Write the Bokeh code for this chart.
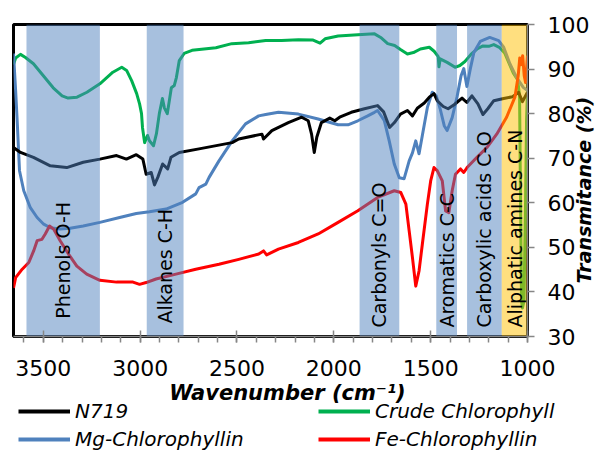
from math import pi
from bokeh.plotting import figure
from bokeh.layouts import column
from bokeh.models import (Range1d, FixedTicker, Legend, LegendItem, Label, ColumnDataSource)
from bokeh.core.properties import value
from bokeh.embed import file_html
from bokeh.resources import INLINE

FONT = "DejaVu Sans"

# ---------------- data (wavenumber cm-1, transmittance %) ----------------
n719_points = [
    (3654, 72.4), (3618, 71.3), (3551, 70.2), (3464, 68.3), (3379, 67.9), (3294, 69.1),
    (3208, 69.8), (3122, 70.6), (3071, 69.8), (3020, 70.8), (2986, 69.8), (2969, 66.4),
    (2943, 66.8), (2926, 64.0), (2909, 65.7), (2884, 68.7), (2858, 67.6), (2841, 70.2),
    (2798, 71.3), (2696, 72.1), (2525, 73.5), (2491, 74.3), (2371, 75.4), (2363, 74.3),
    (2320, 76.2), (2235, 78.0), (2166, 79.2), (2132, 78.4), (2115, 75.4), (2101, 71.3),
    (2088, 74.7), (2064, 78.0), (2021, 79.0), (1995, 78.4), (1970, 79.2), (1910, 80.3),
    (1842, 81.1), (1774, 81.8), (1743, 80.4), (1712, 76.9), (1687, 78.0), (1656, 79.9),
    (1620, 80.7), (1594, 79.5), (1569, 81.2), (1533, 82.4), (1507, 83.7), (1483, 84.5),
    (1466, 82.9), (1435, 81.6), (1410, 81.1), (1379, 82.0), (1338, 83.5), (1313, 82.5),
    (1287, 84.0), (1256, 82.2), (1230, 79.8), (1205, 81.1), (1174, 82.9), (1123, 83.4),
    (1077, 83.8), (1046, 84.8), (1026, 82.7), (1000, 84.8),
]

crude_points = [
    (3654, 91.0), (3643, 92.5), (3618, 93.3), (3592, 92.6), (3551, 91.2), (3500, 88.5),
    (3449, 85.8), (3403, 84.0), (3372, 83.5), (3326, 83.7), (3275, 84.8), (3208, 86.7),
    (3141, 89.3), (3095, 90.4), (3070, 89.7), (3044, 87.4), (3018, 84.5), (3003, 82.2),
    (2993, 80.0), (2988, 76.9), (2977, 73.5), (2962, 75.1), (2952, 73.9), (2931, 72.8),
    (2916, 75.5), (2901, 80.0), (2885, 83.4), (2875, 81.3), (2860, 80.0), (2849, 83.0),
    (2839, 85.8), (2824, 86.3), (2813, 88.1), (2798, 91.9), (2773, 93.5), (2732, 94.2),
    (2609, 94.8), (2527, 95.7), (2440, 95.9), (2352, 96.4), (2270, 96.4), (2183, 96.6),
    (2107, 96.5), (2071, 95.8), (2045, 96.8), (1978, 97.4), (1876, 97.7), (1790, 97.9),
    (1758, 97.1), (1722, 95.7), (1686, 95.3), (1656, 94.4), (1620, 93.4), (1589, 93.7),
    (1553, 94.5), (1507, 94.9), (1482, 94.0), (1461, 92.8), (1457, 90.5), (1451, 92.3),
    (1415, 91.5), (1374, 90.4), (1349, 90.8), (1323, 91.7), (1292, 93.3), (1261, 94.5),
    (1230, 95.2), (1200, 95.1), (1174, 95.5), (1143, 94.8), (1118, 93.6), (1092, 91.0),
    (1072, 89.0), (1051, 87.6), (1041, 84.0), (1036, 60.4), (1031, 38.0), (1026, 36.4),
    (1018, 38.0), (1010, 60.4), (1005, 78.4), (1000, 85.2),
]

mg_points = [
    (3654, 93.5), (3643, 85.2), (3635, 78.4), (3623, 67.2), (3601, 62.7), (3567, 58.9),
    (3532, 56.7), (3498, 55.2), (3464, 54.4), (3413, 54.1), (3362, 54.3), (3294, 54.8),
    (3208, 55.6), (3106, 56.7), (3020, 57.6), (2952, 58.0), (2866, 58.6), (2781, 60.1),
    (2713, 62.0), (2696, 63.4), (2661, 64.2), (2644, 65.7), (2593, 69.4), (2525, 73.9),
    (2456, 77.7), (2388, 79.5), (2352, 79.8), (2286, 80.3), (2183, 79.9), (2081, 78.8),
    (1978, 77.5), (1927, 77.5), (1876, 78.4), (1825, 79.5), (1790, 80.3), (1774, 80.7),
    (1739, 78.4), (1714, 73.9), (1688, 68.7), (1662, 65.6), (1637, 65.4), (1611, 69.4),
    (1594, 71.2), (1577, 73.9), (1560, 71.0), (1543, 75.1), (1517, 81.4), (1492, 84.8),
    (1471, 84.0), (1451, 81.1), (1430, 77.3), (1415, 76.2), (1389, 79.1), (1364, 83.7),
    (1343, 88.5), (1329, 90.1), (1313, 86.1), (1295, 90.1), (1277, 93.7), (1244, 96.2),
    (1195, 97.1), (1149, 96.4), (1123, 94.9), (1091, 91.2), (1056, 88.1), (1022, 85.9),
    (1000, 85.2),
]

fe_points = [
    (3654, 40.9), (3643, 43.2), (3609, 45.1), (3575, 46.6), (3550, 49.2), (3532, 51.5),
    (3507, 51.8), (3490, 53.0), (3468, 54.8), (3447, 54.1), (3413, 51.5), (3370, 48.5),
    (3327, 45.8), (3276, 44.0), (3208, 42.6), (3122, 42.2), (3037, 42.2), (3003, 41.7),
    (2969, 42.1), (2918, 42.9), (2815, 44.0), (2713, 45.1), (2593, 46.2), (2491, 47.3),
    (2388, 48.5), (2363, 49.2), (2347, 48.3), (2286, 49.6), (2183, 51.1), (2081, 53.0),
    (1978, 55.6), (1876, 58.2), (1774, 61.2), (1688, 62.7), (1654, 62.3), (1628, 59.7),
    (1611, 53.7), (1594, 47.7), (1577, 41.3), (1560, 44.7), (1543, 50.7), (1517, 59.7),
    (1500, 64.9), (1483, 67.9), (1466, 67.2), (1440, 64.9), (1423, 58.2), (1406, 57.8),
    (1389, 62.7), (1372, 66.4), (1346, 67.6), (1329, 66.8), (1312, 67.9), (1261, 70.2),
    (1210, 72.4), (1159, 75.4), (1108, 79.2), (1065, 83.7), (1048, 88.5), (1040, 92.5),
    (1032, 91.0), (1025, 93.0), (1017, 88.5), (1010, 87.0), (1005, 90.0), (1000, 93.0),
]

series_names = ["N719", "Crude Chlorophyll", "Mg-Chlorophyllin", "Fe-Chlorophyllin"]

band_names = ["Phenols O-H", "Alkanes C-H", "Carbonyls C=O", "Aromatics C-C",
              "Carboxylic acids C-O", "Aliphatic amines C-N"]
band_from = [3587, 2966, 1867, 1471, 1312, 1133]
band_to = [3208, 2776, 1662, 1364, 1133, 1000]

x_ticks = [3500, 3000, 2500, 2000, 1500, 1000]
x_minor_ticks = list(range(1000, 3700, 100))
y_ticks = [30, 40, 50, 60, 70, 80, 90, 100]

x_title = "Wavenumber (cm\u207b\u00b9)"
y_title = "Transmitance (%)"

# ---------------- styling / layout ----------------
line_colors = {"N719": "#000000", "Crude Chlorophyll": "#00B050",
               "Mg-Chlorophyllin": "#4F81BD", "Fe-Chlorophyllin": "#FF0000"}
band_colors = ["#4F81BD"] * 5 + ["#FFC000"]
band_label_start = [34.0, 32.9, 32.0, 32.0, 32.0, 32.0]
data = {"N719": n719_points, "Crude Chlorophyll": crude_points,
        "Mg-Chlorophyllin": mg_points, "Fe-Chlorophyllin": fe_points}

MAIN_H = 379
FOOT_H = 451 - MAIN_H

p = figure(width=609, height=MAIN_H, x_range=Range1d(3654, 1000), y_range=Range1d(30, 100),
           y_axis_location="right", output_backend="svg", toolbar_location=None,
           min_border_left=13, min_border_right=78, min_border_top=24,
           min_border_bottom=43)
p.title.visible = False
p.grid.visible = False
p.background_fill_color = "white"
p.border_fill_color = "white"
p.outline_line_color = "black"
p.outline_line_width = 3

for name in ["Crude Chlorophyll", "Mg-Chlorophyllin", "N719", "Fe-Chlorophyllin"]:
    xs = [a for a, b in data[name]]
    ys = [b for a, b in data[name]]
    p.line(xs, ys, line_color=line_colors[name], line_width=3, line_join="round")

# translucent absorption bands drawn over the spectra
p.quad(left=band_from, right=band_to, bottom=30, top=100, fill_color=band_colors,
       fill_alpha=0.5, line_color=None)

label_x = [(a + b) / 2 for a, b in zip(band_from, band_to)]
src = ColumnDataSource(dict(x=label_x, y=band_label_start, text=band_names))
p.text(x="x", y="y", text="text", source=src, angle=pi / 2,
       text_font=value(FONT), text_font_size=value("19px"), text_color="black",
       text_align="left", text_baseline="middle")

# x axis
xa = p.xaxis[0]
xa.ticker = FixedTicker(ticks=x_ticks, minor_ticks=x_minor_ticks)
xa.major_label_text_font = FONT
xa.major_label_text_font_size = "22px"
xa.major_label_text_color = "black"
xa.axis_line_color = "#868686"
xa.axis_line_width = 1.5
xa.major_tick_line_color = "#868686"
xa.minor_tick_line_color = "#868686"
xa.major_tick_line_width = 1.5
xa.minor_tick_line_width = 1.5
xa.major_tick_in = 6
xa.major_tick_out = 6
xa.minor_tick_in = 0
xa.minor_tick_out = 6
xa.major_label_standoff = 17

# y axis (right); the title reads bottom-to-top and starts ~53 px above the axis bottom
ya = p.yaxis[0]
ya.ticker = FixedTicker(ticks=y_ticks)
ya.major_label_text_font = FONT
ya.major_label_text_font_size = "22px"
ya.major_label_text_color = "black"
ya.axis_line_color = "#868686"
ya.axis_line_width = 1.5
ya.major_tick_line_color = "#868686"
ya.major_tick_line_width = 1.5
ya.major_tick_in = 0
ya.major_tick_out = 7
ya.minor_tick_line_color = None
ya.major_label_standoff = 13
ya.axis_label = "\u00a0" * 8 + y_title
ya.axis_label_text_font = FONT
ya.axis_label_text_font_size = "19px"
ya.axis_label_text_font_style = "bold italic"
ya.axis_label_text_color = "black"
ya.axis_label_standoff = -8
try:
    ya.axis_label_orientation = pi / 2
except Exception:
    pass
try:
    ya.axis_label_align = "start"
except Exception:
    pass

# ---------------- footer: x-axis title and two-column legend ----------------
foot = figure(width=609, height=FOOT_H, x_range=Range1d(0, 609), y_range=Range1d(FOOT_H, 0),
              x_axis_location=None, y_axis_location=None, output_backend="svg",
              toolbar_location=None, min_border=0)
foot.title.visible = False
foot.grid.visible = False
foot.outline_line_color = None
foot.background_fill_color = "white"
foot.border_fill_color = "white"
for fig in (p, foot):
    try:
        fig.frame_align = False
    except Exception:
        pass

foot.add_layout(Label(x=287, y=13, text=x_title, text_font=FONT, text_font_size="21px",
                      text_font_style="bold italic", text_color="black",
                      text_align="center", text_baseline="middle"))

# legend glyph renderers (same series; their coordinates fall outside this footer's view)
foot_renderers = {}
for name in series_names:
    xs = [a for a, b in data[name]]
    ys = [b for a, b in data[name]]
    foot_renderers[name] = foot.line(xs, ys, line_color=line_colors[name], line_width=4)


def make_legend(names, loc):
    return Legend(items=[LegendItem(label=n, renderers=[foot_renderers[n]]) for n in names],
                  location=loc, orientation="vertical", padding=0, margin=0, spacing=2,
                  glyph_width=52, glyph_height=26, label_height=26, label_standoff=5,
                  label_text_font=FONT, label_text_font_size="20px",
                  label_text_font_style="italic", label_text_color="black",
                  background_fill_alpha=0, border_line_alpha=0)


foot.add_layout(make_legend(["N719", "Mg-Chlorophyllin"], (18, -1)))
foot.add_layout(make_legend(["Crude Chlorophyll", "Fe-Chlorophyllin"], (318, -1)))

layout = column(p, foot, spacing=0)

open("out.html", "w").write(file_html(layout, INLINE))
